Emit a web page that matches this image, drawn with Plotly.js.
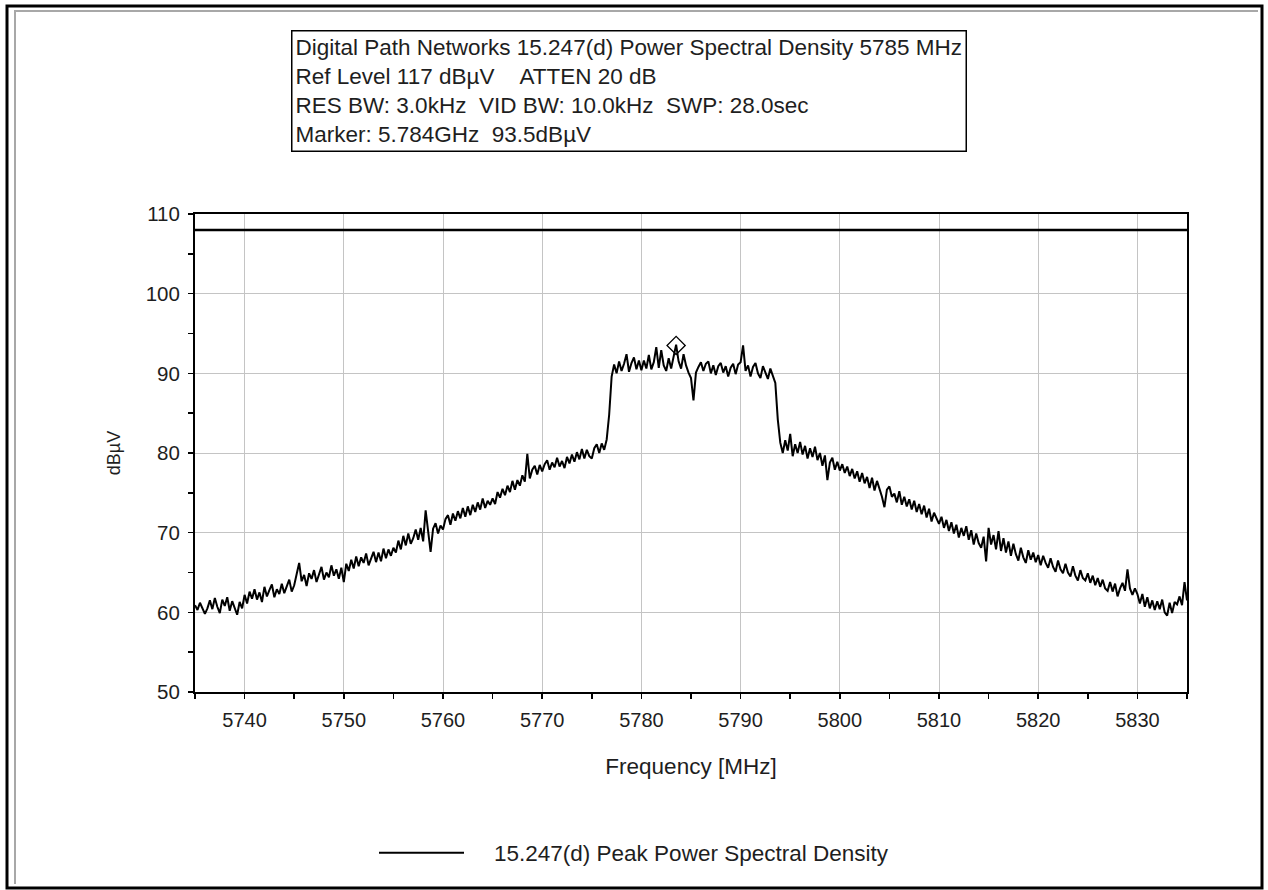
<!DOCTYPE html>
<html>
<head>
<meta charset="utf-8">
<script src="https://cdn.plot.ly/plotly-3.0.1.min.js"></script>
<style>
  html, body { margin: 0; padding: 0; background: #ffffff; }
  #chart { width: 1268px; height: 890px; }
</style>
</head>
<body>
<div id="chart"></div>
<script>
// ---- data ----
const startFreq = 5735;          // MHz, first sample
const stepFreq = 0.25;           // MHz between samples
const level = [
  // 5735 - 5739.75
  60.9, 60.3, 61.2, 60.6, 59.8, 60.5, 61.5, 60.4, 61.8, 60.7, 59.9, 61.6, 60.8, 61.9, 60.2, 61.4, 60.6, 59.7, 61.3, 60.5,
  // 5740 - 5744.75
  62.2, 61.1, 62.6, 61.7, 62.9, 61.6, 62.5, 61.3, 63.2, 62.0, 62.8, 63.5, 61.9, 62.9, 62.3, 63.6, 62.4, 63.3, 64.1, 62.6,
  // 5745 - 5749.75
  63.4, 64.8, 66.2, 63.9, 64.7, 63.3, 64.9, 64.2, 65.3, 63.8, 64.9, 65.7, 64.1, 65.0, 64.4, 65.9, 64.6, 65.4, 64.2, 65.6,
  // 5750 - 5754.75
  63.8, 66.1, 65.2, 66.6, 65.5, 67.0, 65.8, 66.9, 66.2, 67.4, 65.9, 66.7, 67.6, 66.3, 67.5, 66.4, 68.0, 66.8, 67.9, 67.1,
  // 5755 - 5759.75
  68.1, 67.5, 69.0, 67.9, 69.6, 68.4, 69.9, 68.6, 69.3, 70.4, 69.1, 70.6, 68.9, 72.8, 69.8, 67.6, 70.5, 71.2, 69.9, 70.9,
  // 5760 - 5764.75
  70.4, 71.7, 72.2, 71.0, 72.4, 71.5, 72.7, 71.8, 73.1, 72.0, 73.3, 72.2, 73.5, 72.6, 73.8, 72.9, 74.3, 73.1, 74.0, 73.5,
  // 5765 - 5769.75
  74.3, 73.6, 75.1, 74.4, 75.5, 74.7, 75.9, 75.1, 76.5, 75.4, 76.6, 75.9, 77.2, 76.4, 79.9, 76.8, 77.9, 78.4, 77.3, 78.5,
  // 5770 - 5774.75
  77.7, 78.6, 79.1, 77.9, 78.8, 78.2, 79.4, 78.3, 79.0, 78.1, 79.5, 78.7, 79.8, 78.9, 80.1, 79.2, 80.5, 79.3, 80.4, 79.6,
  // 5775 - 5779.75
  79.3, 80.6, 81.1, 80.0, 81.2, 80.4, 81.7, 84.8, 89.6, 91.1, 90.0, 91.5, 90.3, 91.2, 92.4, 90.2, 91.3, 92.0, 90.5, 91.6,
  // 5780 - 5784.75
  90.4, 91.6, 90.6, 92.3, 90.5, 91.4, 93.3, 90.7, 92.9, 91.0, 90.3, 91.9, 90.6, 92.1, 93.6, 91.5, 90.6, 92.4, 91.0, 90.1,
  // 5785 - 5789.75
  89.4, 86.6, 90.1, 90.8, 91.4, 90.3, 91.2, 91.5, 90.0, 91.0, 89.8, 90.9, 91.3, 90.1, 90.9, 89.6, 90.7, 91.2, 89.9, 91.1,
  // 5790 - 5794.75
  91.4, 93.5, 90.3, 91.0, 89.6, 90.8, 91.3, 90.0, 89.4, 90.9, 90.1, 89.3, 90.6, 89.8, 88.8, 84.2, 81.3, 80.0, 81.6, 80.3,
  // 5795 - 5799.75
  82.4, 79.6, 81.1, 80.0, 81.4, 79.8, 80.9, 79.3, 80.6, 79.5, 80.8, 79.1, 80.0, 78.4, 79.7, 76.6, 78.8, 79.4, 77.9, 78.9,
  // 5800 - 5804.75
  77.8, 78.6, 77.5, 78.3, 77.1, 78.0, 76.8, 77.7, 76.4, 77.5, 76.2, 77.0, 75.6, 76.9, 75.3, 76.5, 75.6, 74.5, 73.2, 75.4,
  // 5805 - 5809.75
  75.8, 74.5, 74.9, 73.8, 75.2, 73.5, 74.5, 73.3, 74.2, 72.9, 74.0, 72.6, 73.6, 72.3, 73.4, 71.9, 73.0, 71.4, 72.5, 71.7,
  // 5810 - 5814.75
  71.1, 72.0, 70.6, 71.6, 70.2, 71.3, 69.9, 71.0, 69.4, 70.6, 69.6, 70.8, 69.1, 70.3, 68.5, 69.9, 68.7, 68.1, 69.5, 66.4,
  // 5815 - 5819.75
  70.6, 68.5, 69.7, 67.9, 70.2, 67.7, 69.3, 67.5, 68.9, 67.1, 68.6, 67.3, 66.5, 68.1, 66.9, 66.2, 67.8, 66.6, 67.5, 66.3,
  // 5820 - 5824.75
  67.2, 65.9, 67.1, 66.2, 65.6, 66.8, 65.7, 65.1, 66.5, 65.4, 64.9, 66.1, 65.0, 64.5, 65.8, 64.6, 64.0, 65.3, 64.3, 64.0,
  // 5825 - 5829.75
  64.9, 63.7, 64.6, 63.4, 64.3, 63.2, 64.1, 63.0, 62.7, 63.8, 62.6, 63.6, 62.0, 63.0, 63.7, 62.7, 65.4, 63.0, 62.2, 63.0,
  // 5830 - 5834.75
  62.3, 61.1, 62.3, 60.7, 61.9, 60.5, 61.5, 60.3, 61.4, 60.4, 61.6, 60.0, 59.6, 61.2, 59.9, 61.3, 61.0, 62.0, 60.9, 63.8,
  // 5835
  61.5
];
const limitFreq = [5735, 5835];
const limitLevel = [108, 108];
const markerFreq = [5783.5];
const markerLevel = [93.5];
const headerLines = [
  "Digital Path Networks 15.247(d) Power Spectral Density 5785 MHz",
  "Ref Level 117 dBµV\u00a0\u00a0\u00a0\u00a0ATTEN 20 dB",
  "RES BW: 3.0kHz\u00a0\u00a0VID BW: 10.0kHz\u00a0\u00a0SWP: 28.0sec",
  "Marker: 5.784GHz\u00a0\u00a093.5dBµV"
];
const seriesName = "15.247(d) Peak Power Spectral Density";
const xTitle = "Frequency [MHz]";
const yTitle = "dBµV";

const freq = level.map((_, i) => startFreq + i * stepFreq);

const FONT = "Liberation Sans, Arial, sans-serif";
const TXT = "#1e1e1e";

const traces = [
  {
    x: freq, y: level, type: "scatter", mode: "lines",
    name: "\u00a0\u00a0\u00a0\u00a0" + seriesName,
    line: { color: "#000000", width: 2 },
    showlegend: true
  },
  {
    x: limitFreq, y: limitLevel, type: "scatter", mode: "lines",
    line: { color: "#000000", width: 2.5 },
    showlegend: false, hoverinfo: "skip"
  },
  {
    x: markerFreq, y: markerLevel, type: "scatter", mode: "markers",
    marker: { symbol: "diamond-open", size: 14, color: "#000000", line: { width: 1.3, color: "#000000" } },
    showlegend: false
  }
];

// plot area in pixels: x 195..1187, y 214..692
const L = 195, R = 1187, T = 214, B = 692;
const px = v => (v - L) / (R - L);
const py = v => (B - v) / (B - T);

const layout = {
  width: 1268, height: 890,
  margin: { l: L, r: 1268 - R, t: T, b: 890 - B, pad: 0 },
  paper_bgcolor: "#ffffff",
  plot_bgcolor: "#ffffff",
  font: { family: FONT, color: TXT, size: 20 },
  showlegend: true,
  legend: {
    orientation: "h",
    x: px(374), xanchor: "left",
    y: py(853), yanchor: "middle",
    font: { family: FONT, size: 22.5, color: TXT },
    itemwidth: 85,
    bgcolor: "rgba(0,0,0,0)"
  },
  xaxis: {
    range: [5735, 5835],
    tick0: 5740, dtick: 10,
    ticks: "outside", ticklen: 5, tickwidth: 1.5, tickcolor: "#000000",
    minor: { dtick: 5, tick0: 5735, ticks: "outside", ticklen: 5, tickwidth: 1.5, tickcolor: "#000000", showgrid: false },
    showline: true, linecolor: "#000000", linewidth: 2, mirror: true,
    showgrid: true, gridcolor: "#c4c4c4", gridwidth: 1,
    zeroline: false,
    ticklabelstandoff: 4,
    tickfont: { family: FONT, size: 20, color: TXT },
    title: { text: xTitle, font: { family: FONT, size: 22.5, color: TXT }, standoff: 28 }
  },
  yaxis: {
    range: [50, 110],
    tick0: 50, dtick: 10,
    ticks: "outside", ticklen: 5, tickwidth: 1.5, tickcolor: "#000000",
    minor: { dtick: 5, tick0: 50, ticks: "outside", ticklen: 5, tickwidth: 1.5, tickcolor: "#000000", showgrid: false },
    showline: true, linecolor: "#000000", linewidth: 2, mirror: true,
    showgrid: true, gridcolor: "#c4c4c4", gridwidth: 1,
    zeroline: false,
    ticklabelstandoff: 4,
    tickfont: { family: FONT, size: 20.5, color: TXT },
    title: { text: yTitle, font: { family: FONT, size: 18, color: TXT }, standoff: 20 }
  },
  annotations: [
    {
      xref: "paper", yref: "paper",
      x: px(291), xanchor: "left",
      y: py(30), yanchor: "top",
      text: headerLines.join("<br>"),
      showarrow: false, align: "left",
      font: { family: FONT, size: 22.5, color: TXT },
      bordercolor: "#000000", borderwidth: 1.5, borderpad: 3,
      bgcolor: "#ffffff"
    }
  ],
  shapes: [
    {
      type: "rect", xref: "paper", yref: "paper", layer: "below",
      x0: px(7), x1: px(1262), y0: py(888), y1: py(6),
      line: { color: "#000000", width: 3 }, fillcolor: "rgba(0,0,0,0)"
    },
    {
      type: "path", xref: "paper", yref: "paper", layer: "below",
      path: "M" + px(15) + "," + py(884) + " L" + px(15) + "," + py(11) + " L" + px(1258) + "," + py(11),
      line: { color: "#a8a8a8", width: 2 }
    }
  ]
};

Plotly.newPlot("chart", traces, layout, { staticPlot: true, displayModeBar: false });
</script>
</body>
</html>
